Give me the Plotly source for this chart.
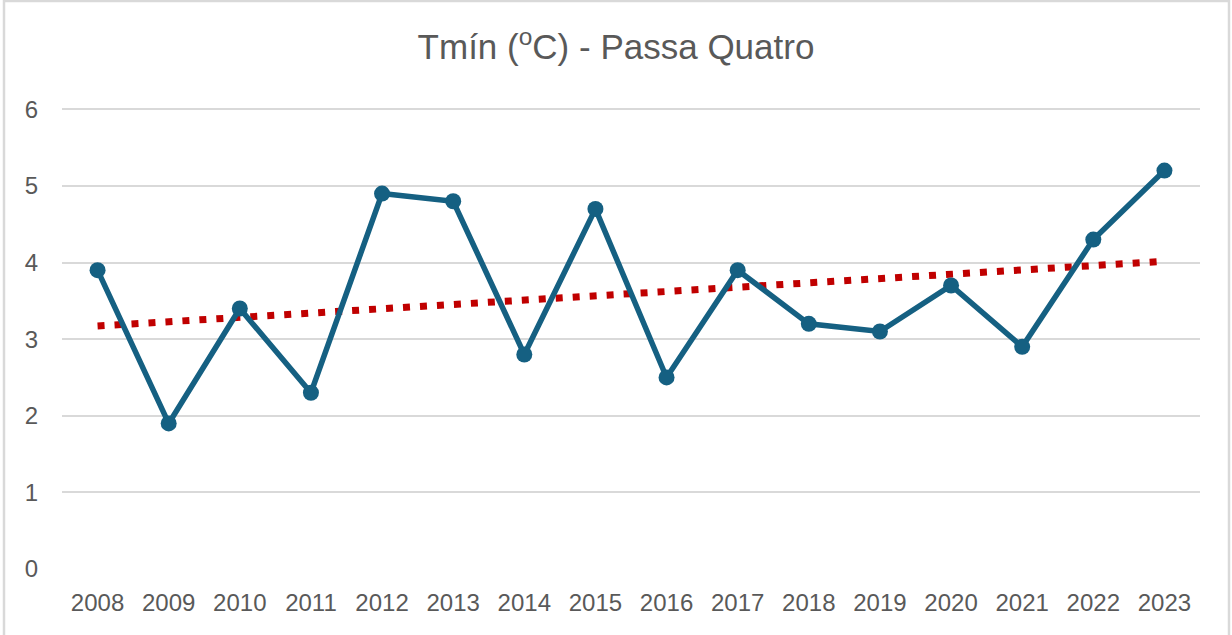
import numpy as np
import plotly.graph_objects as go

years = [2008, 2009, 2010, 2011, 2012, 2013, 2014, 2015,
         2016, 2017, 2018, 2019, 2020, 2021, 2022, 2023]
tmin = [3.9, 1.9, 3.4, 2.3, 4.9, 4.8, 2.8, 4.7,
        2.5, 3.9, 3.2, 3.1, 3.7, 2.9, 4.3, 5.2]
y_ticks = [0, 1, 2, 3, 4, 5, 6]
title_text = "Tmín (<sup>o</sup>C) - Passa Quatro"

# linear trendline (least squares), as Excel's trendline
idx = np.arange(len(years))
slope, intercept = np.polyfit(idx, tmin, 1)
trend_x = [years[0], years[-1]]
trend_y = [intercept, intercept + slope * idx[-1]]

W, H = 1232, 635
ml, mr, mt, mb = 62, 32, 107, 66
pw, ph = W - ml - mr, H - mt - mb

def px_x(p):
    return (p - ml) / pw

def px_y(p):
    return (H - mb - p) / ph

fig = go.Figure()
fig.add_trace(go.Scatter(
    x=trend_x, y=trend_y, mode="lines",
    line=dict(color="#C00000", width=7, dash="7px,10px"),
    hoverinfo="skip", showlegend=False))
fig.add_trace(go.Scatter(
    x=years, y=tmin, mode="lines+markers",
    line=dict(color="#156082", width=5.5),
    marker=dict(color="#156082", size=16),
    showlegend=False))

fig.update_layout(
    width=W, height=H,
    margin=dict(l=ml, r=mr, t=mt, b=mb),
    paper_bgcolor="white", plot_bgcolor="white",
    font=dict(family="Liberation Sans, Arial, sans-serif", color="#595959"),
    title=dict(text=title_text, x=0.5, xanchor="center", y=1 - 47 / H, yanchor="middle",
               font=dict(size=35, color="#595959")),
    xaxis=dict(
        range=[years[0] - 0.5, years[-1] + 0.5],
        tickmode="array", tickvals=years, ticktext=[str(y) for y in years],
        showgrid=False, zeroline=False, showline=False,
        tickfont=dict(size=24, color="#595959"),
        ticklabelstandoff=17, fixedrange=True),
    yaxis=dict(
        range=[0, 6.03], tickmode="array", tickvals=y_ticks,
        showgrid=True, gridcolor="#D9D9D9", gridwidth=1.5,
        zeroline=False, showline=False,
        tickfont=dict(size=24, color="#595959"),
        ticklabelstandoff=23, fixedrange=True),
    shapes=[dict(type="rect", xref="paper", yref="paper",
                 x0=px_x(4), x1=px_x(1229), y0=px_y(640), y1=px_y(1),
                 line=dict(color="#D9D9D9", width=2.5), layer="below")],
)

fig.write_html("out.html", config={"displayModeBar": False},
               post_script="document.body.style.margin='0';")
